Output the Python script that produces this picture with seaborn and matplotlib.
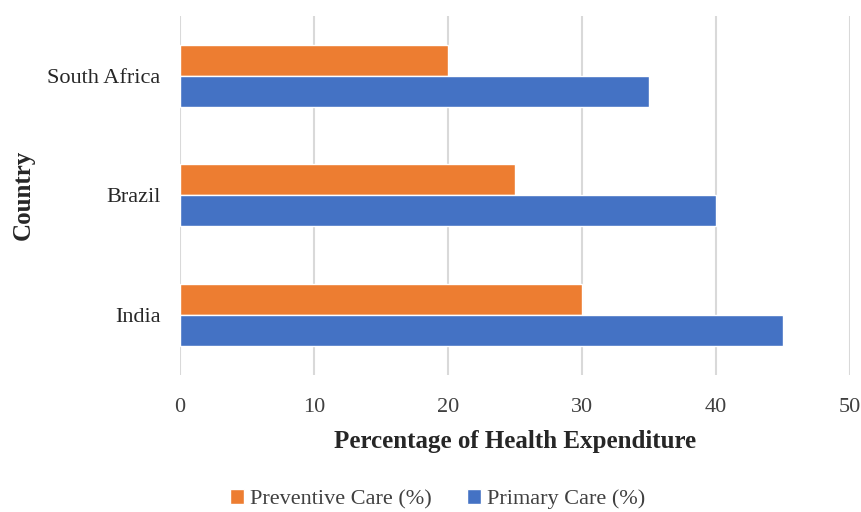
import matplotlib
matplotlib.use("Agg")
import matplotlib.pyplot as plt
import seaborn as sns
import pandas as pd

countries = ["South Africa", "Brazil", "India"]
preventive = [20, 25, 30]
primary = [35, 40, 45]
series_names = ["Preventive Care (%)", "Primary Care (%)"]
colors = ["#ED7D31", "#4472C4"]

rows = []
for c, pv, pr in zip(countries, preventive, primary):
    rows.append({"Country": c, "Series": series_names[0], "Value": pv})
    rows.append({"Country": c, "Series": series_names[1], "Value": pr})
df = pd.DataFrame(rows)

sns.set_style("white")
plt.rcParams["font.family"] = ["Liberation Serif", "DejaVu Serif"]

fig = plt.figure(figsize=(8.61, 5.12), dpi=100)
ax = fig.add_axes([0.209, 0.268, 0.778, 0.701])

sns.barplot(data=df, x="Value", y="Country", hue="Series", order=countries,
            hue_order=series_names, palette=colors, orient="h", width=0.52,
            saturation=1, ax=ax, legend=True)

ax.set_xlim(0, 50)
ax.set_xticks(range(0, 51, 10))
ax.xaxis.grid(True, color="#d9d9d9", linewidth=1.5)
ax.set_axisbelow(True)
for s in ax.spines.values():
    s.set_visible(False)
ax.tick_params(axis="both", length=0, labelsize=16, colors="#404040")
ax.tick_params(axis="x", pad=17)
ax.tick_params(axis="y", pad=14, labelcolor="#262626")
ax.set_xlabel("Percentage of Health Expenditure", fontsize=18, fontweight="bold",
              color="#262626", labelpad=9)
ax.set_ylabel("Country", fontsize=18, fontweight="bold", color="#262626", labelpad=9)

handles, labels = ax.get_legend_handles_labels()
ax.get_legend().remove()
fig.legend(handles, labels, loc="center", bbox_to_anchor=(0.508, 0.025), ncol=2,
           frameon=False, fontsize=16, handlelength=0.65, handleheight=0.65,
           handletextpad=0.25, columnspacing=1.6, labelcolor="#404040")

fig.savefig("out.png", dpi=100)
